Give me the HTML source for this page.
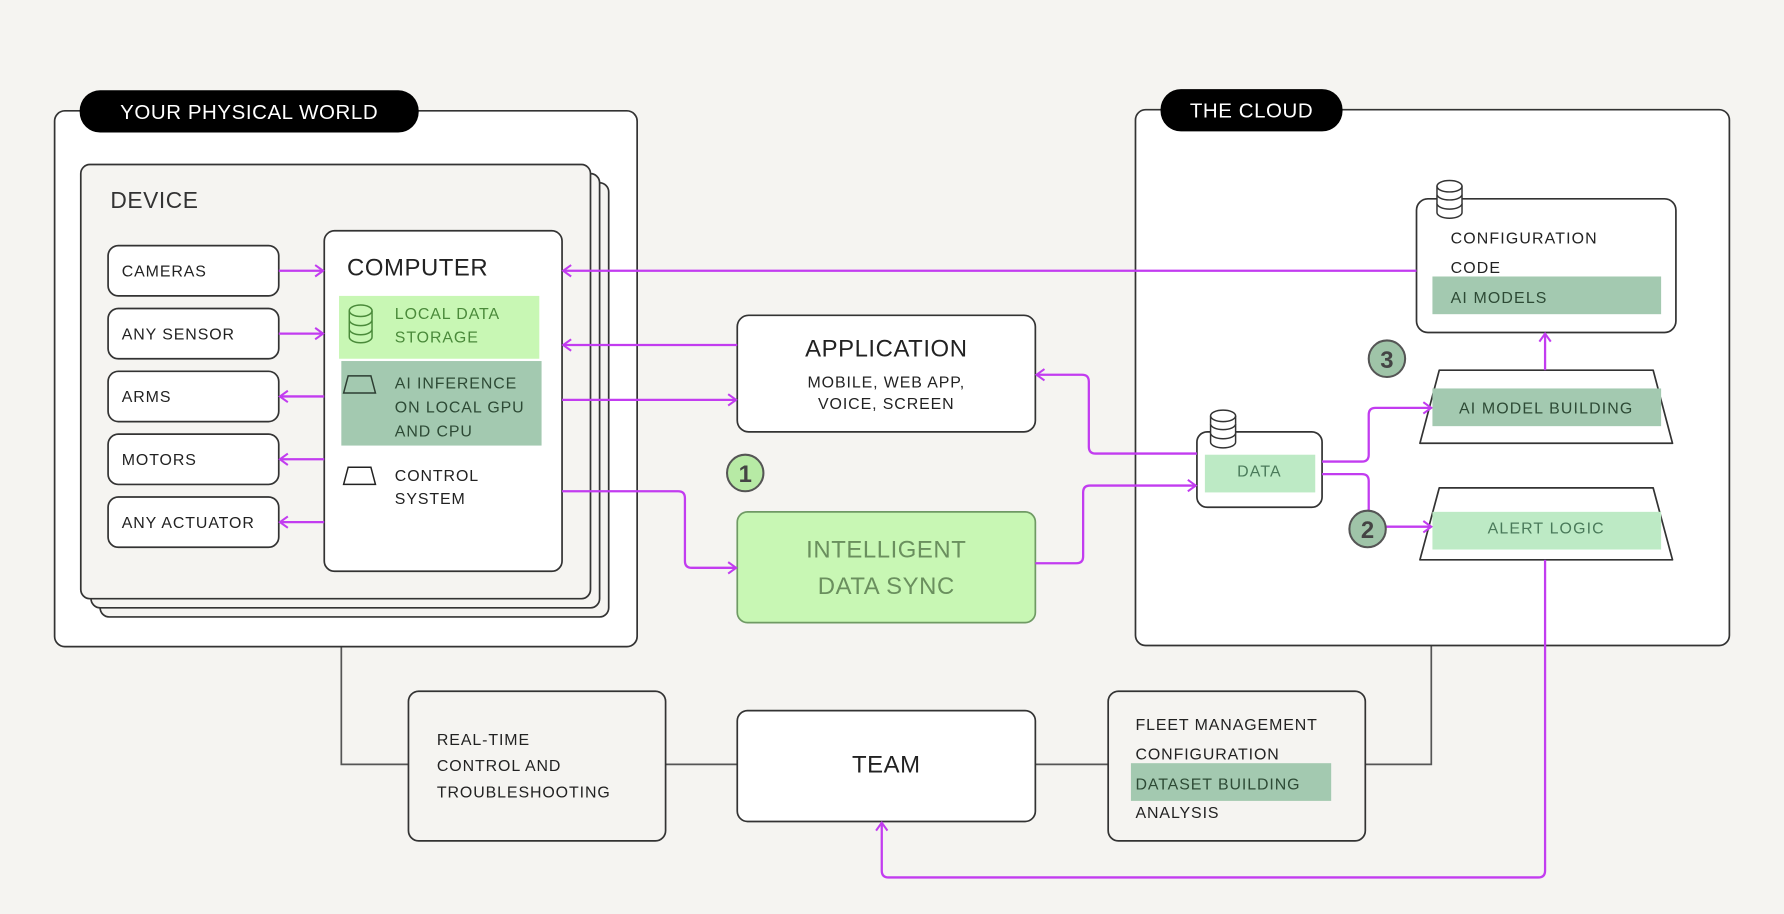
<!DOCTYPE html>
<html><head><meta charset="utf-8"><style>
html,body{margin:0;padding:0;background:#f5f4f1;}
svg{display:block;}
text{font-family:"Liberation Sans",sans-serif;}
</style></head><body>
<svg width="1784" height="914" viewBox="0 0 1568 800" preserveAspectRatio="none" xmlns="http://www.w3.org/2000/svg">
<defs>
<marker id="a" markerWidth="10" markerHeight="12" refX="8" refY="6" orient="auto" markerUnits="userSpaceOnUse">
<path d="M1,1 L8,6 L1,11" fill="none" stroke="#c23cf0" stroke-width="1.8"/>
</marker>
</defs>
<rect width="1568" height="800" fill="#f5f4f1"/>

<!-- gray connectors -->
<g fill="none" stroke="#555" stroke-width="1.5">
<path d="M300,566 V669 H359"/>
<path d="M585,669 H648"/>
<path d="M910,669 H974"/>
<path d="M1200,669 H1258 V565"/>
</g>

<!-- physical world -->
<rect x="48" y="97" width="512" height="469" rx="9" fill="#fff" stroke="#333" stroke-width="1.5"/>
<rect x="70" y="79" width="298" height="37" rx="18" fill="#000"/>
<text x="219" y="104" fill="#fff" font-size="18" text-anchor="middle" letter-spacing="0.5">YOUR PHYSICAL WORLD</text>

<rect x="88" y="160" width="447" height="380" rx="8" fill="#f5f4f1" stroke="#333" stroke-width="1.5"/>
<rect x="80" y="152" width="447" height="380" rx="8" fill="#f5f4f1" stroke="#333" stroke-width="1.5"/>
<rect x="71" y="144" width="448" height="380" rx="8" fill="#f5f4f1" stroke="#333" stroke-width="1.5"/>
<text x="97" y="182" font-size="20" fill="#333" letter-spacing="0.5">DEVICE</text>

<g fill="#fff" stroke="#333" stroke-width="1.5">
<rect x="95" y="215" width="150" height="44" rx="9"/>
<rect x="95" y="270" width="150" height="44" rx="9"/>
<rect x="95" y="325" width="150" height="44" rx="9"/>
<rect x="95" y="380" width="150" height="44" rx="9"/>
<rect x="95" y="435" width="150" height="44" rx="9"/>
<rect x="285" y="202" width="209" height="298" rx="9"/>
</g>
<g font-size="14" fill="#222" letter-spacing="0.8">
<text x="107" y="242">CAMERAS</text>
<text x="107" y="297">ANY SENSOR</text>
<text x="107" y="352">ARMS</text>
<text x="107" y="407">MOTORS</text>
<text x="107" y="462">ANY ACTUATOR</text>
</g>
<text x="305" y="241" font-size="21" fill="#222" letter-spacing="0.5">COMPUTER</text>
<rect x="298" y="259" width="176" height="55" fill="#c8f7b4"/>
<g fill="none" stroke="#4a8a3a" stroke-width="1.3">
<ellipse cx="317" cy="272" rx="10" ry="5"/>
<path d="M307,272 V295 M327,272 V295 M307,280 a10,5 0 0 0 20,0 M307,288 a10,5 0 0 0 20,0 M307,295 a10,5 0 0 0 20,0"/>
</g>
<text x="347" y="279" font-size="14" fill="#4a8a3a" letter-spacing="0.8">LOCAL DATA</text>
<text x="347" y="300" font-size="14" fill="#4a8a3a" letter-spacing="0.8">STORAGE</text>
<rect x="300" y="316" width="176" height="74" fill="#a3c9b0"/>
<path d="M306,329 H326 L330,344 H302 Z" fill="none" stroke="#2d3d32" stroke-width="1.3"/>
<g font-size="14" fill="#2d4a35" letter-spacing="0.8">
<text x="347" y="340">AI INFERENCE</text>
<text x="347" y="361">ON LOCAL GPU</text>
<text x="347" y="382">AND CPU</text>
</g>
<path d="M306,409 H326 L330,424 H302 Z" fill="none" stroke="#222" stroke-width="1.3"/>
<text x="347" y="421" font-size="14" fill="#222" letter-spacing="0.8">CONTROL</text>
<text x="347" y="441" font-size="14" fill="#222" letter-spacing="0.8">SYSTEM</text>

<!-- cloud -->
<rect x="998" y="96" width="522" height="469" rx="9" fill="#fff" stroke="#333" stroke-width="1.5"/>
<rect x="1020" y="78" width="160" height="37" rx="18" fill="#000"/>
<text x="1100" y="103" fill="#fff" font-size="18" text-anchor="middle" letter-spacing="0.5">THE CLOUD</text>

<rect x="1245" y="174" width="228" height="117" rx="10" fill="#fff" stroke="#333" stroke-width="1.5"/>
<rect x="1259" y="242" width="201" height="33" fill="#a3c9b0"/>
<text x="1275" y="213" font-size="14" fill="#222" letter-spacing="1">CONFIGURATION</text>
<text x="1275" y="239" font-size="14" fill="#222" letter-spacing="1">CODE</text>
<text x="1275" y="265" font-size="14" fill="#2d4a35" letter-spacing="1">AI MODELS</text>

<path d="M1265,324 H1453 L1470,388 H1248 Z" fill="#fff" stroke="#333" stroke-width="1.5" stroke-linejoin="round"/>
<rect x="1259" y="340" width="201" height="33" fill="#a3c9b0"/>
<text x="1359" y="362" font-size="14" fill="#2d4a35" text-anchor="middle" letter-spacing="1">AI MODEL BUILDING</text>

<path d="M1265,427 H1453 L1470,490 H1248 Z" fill="#fff" stroke="#333" stroke-width="1.5" stroke-linejoin="round"/>
<rect x="1259" y="448" width="201" height="33" fill="#bdeac5"/>
<text x="1359" y="467" font-size="14" fill="#4a7a5a" text-anchor="middle" letter-spacing="1">ALERT LOGIC</text>

<rect x="1052" y="378" width="110" height="66" rx="9" fill="#fff" stroke="#333" stroke-width="1.5"/>
<rect x="1059" y="398" width="97" height="33" fill="#bdeac5"/>
<text x="1107" y="417" font-size="14" fill="#4a7a5a" text-anchor="middle" letter-spacing="1">DATA</text>

<!-- db icons -->
<g fill="#fff" stroke="#333" stroke-width="1.3">
<path d="M1064,371 V387 a11,5 0 0 0 22,0 V371"/>
<path d="M1064,379 a11,5 0 0 0 22,0"/>
<path d="M1064,371 a11,5 0 0 0 22,0"/>
<ellipse cx="1075" cy="364" rx="11" ry="5"/>
<path d="M1064,364 V371 M1086,364 V371"/>
<path d="M1263,170 V186 a11,5 0 0 0 22,0 V170"/>
<path d="M1263,178 a11,5 0 0 0 22,0"/>
<path d="M1263,170 a11,5 0 0 0 22,0"/>
<ellipse cx="1274" cy="163" rx="11" ry="5"/>
<path d="M1263,163 V170 M1285,163 V170"/>
</g>

<!-- application -->
<rect x="648" y="276" width="262" height="102" rx="10" fill="#fff" stroke="#333" stroke-width="1.5"/>
<text x="779" y="312" font-size="21" fill="#222" text-anchor="middle" letter-spacing="0.5">APPLICATION</text>
<text x="779" y="339" font-size="14" fill="#222" text-anchor="middle" letter-spacing="0.8">MOBILE, WEB APP,</text>
<text x="779" y="358" font-size="14" fill="#222" text-anchor="middle" letter-spacing="0.8">VOICE, SCREEN</text>

<!-- sync -->
<rect x="648" y="448" width="262" height="97" rx="9" fill="#c8f7b4" stroke="#6f9a64" stroke-width="1.5"/>
<text x="779" y="488" font-size="21" fill="#6a8f5e" text-anchor="middle" letter-spacing="0.5">INTELLIGENT</text>
<text x="779" y="520" font-size="21" fill="#6a8f5e" text-anchor="middle" letter-spacing="0.5">DATA SYNC</text>

<!-- team row -->
<rect x="359" y="605" width="226" height="131" rx="9" fill="#f5f4f1" stroke="#333" stroke-width="1.5"/>
<g font-size="14" fill="#222" letter-spacing="0.8">
<text x="384" y="652">REAL-TIME</text>
<text x="384" y="675">CONTROL AND</text>
<text x="384" y="698">TROUBLESHOOTING</text>
</g>
<rect x="648" y="622" width="262" height="97" rx="9" fill="#fff" stroke="#333" stroke-width="1.5"/>
<text x="779" y="676" font-size="21" fill="#222" text-anchor="middle" letter-spacing="0.5">TEAM</text>
<rect x="974" y="605" width="226" height="131" rx="9" fill="#f5f4f1" stroke="#333" stroke-width="1.5"/>
<rect x="994" y="668" width="176" height="33" fill="#a3c9b0"/>
<g font-size="14" fill="#222" letter-spacing="0.8">
<text x="998" y="639">FLEET MANAGEMENT</text>
<text x="998" y="665">CONFIGURATION</text>
<text x="998" y="691" fill="#2d4a35">DATASET BUILDING</text>
<text x="998" y="716">ANALYSIS</text>
</g>

<!-- magenta connectors -->
<g fill="none" stroke="#c23cf0" stroke-width="2" stroke-linejoin="round">
<path d="M245,237 H284" marker-end="url(#a)"/>
<path d="M245,292 H284" marker-end="url(#a)"/>
<path d="M285,347 H246" marker-end="url(#a)"/>
<path d="M285,402 H246" marker-end="url(#a)"/>
<path d="M285,457 H246" marker-end="url(#a)"/>
<path d="M1245,237 H495" marker-end="url(#a)"/>
<path d="M648,302 H495" marker-end="url(#a)"/>
<path d="M494,350 H647" marker-end="url(#a)"/>
<path d="M494,430 H596 Q602,430 602,436 V491 Q602,497 608,497 H647" marker-end="url(#a)"/>
<path d="M910,493 H946 Q952,493 952,487 V431 Q952,425 958,425 H1051" marker-end="url(#a)"/>
<path d="M1052,397 H963 Q957,397 957,391 V334 Q957,328 951,328 H911" marker-end="url(#a)"/>
<path d="M1162,404 H1197 Q1203,404 1203,398 V363 Q1203,357 1209,357 H1258" marker-end="url(#a)"/>
<path d="M1162,415 H1197 Q1203,415 1203,421 V455 Q1203,461 1209,461 H1258" marker-end="url(#a)"/>
<path d="M1358,324 V292" marker-end="url(#a)"/>
<path d="M1358,490 V762 Q1358,768 1352,768 H781 Q775,768 775,762 V720" marker-end="url(#a)"/>
</g>

<!-- numbered circles -->
<g stroke="#555" stroke-width="1.8" font-size="21" font-weight="bold" text-anchor="middle">
<circle cx="655" cy="414" r="16" fill="#b7eaa5"/>
<circle cx="1202" cy="463" r="16" fill="#9fc4a8"/>
<circle cx="1219" cy="314" r="16" fill="#9fc4a8"/>
</g>
<g font-size="21" font-weight="bold" fill="#444" text-anchor="middle">
<text x="655" y="422">1</text>
<text x="1202" y="471">2</text>
<text x="1219" y="322">3</text>
</g>
</svg>
</body></html>
